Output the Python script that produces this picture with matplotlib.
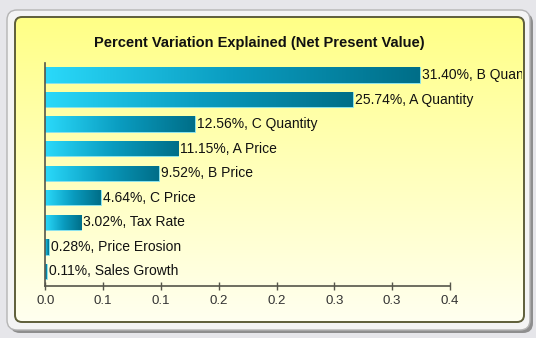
import numpy as np
import matplotlib.pyplot as plt
from matplotlib.patches import FancyBboxPatch
from matplotlib.colors import LinearSegmentedColormap
from matplotlib.transforms import Bbox, TransformedBbox

plt.rcParams['font.family'] = ['Liberation Sans', 'DejaVu Sans']

names = ["B Quantity", "A Quantity", "C Quantity", "A Price", "B Price",
         "C Price", "Tax Rate", "Price Erosion", "Sales Growth"]
pct = [31.40, 25.74, 12.56, 11.15, 9.52, 4.64, 3.02, 0.28, 0.11]
tick_labels = ["0.0", "0.1", "0.1", "0.2", "0.2", "0.3", "0.3", "0.4"]
title = "Percent Variation Explained (Net Present Value)"

W, H = 536, 338
fig = plt.figure(figsize=(W / 100, H / 100), dpi=100, facecolor="#E6E6EA")

# panel behind the chart, in pixel coords
bg = fig.add_axes([0, 0, 1, 1])
bg.set_xlim(0, W)
bg.set_ylim(H, 0)
bg.axis("off")
shadow = FancyBboxPatch((10, 13), 523, 320, boxstyle="round,pad=0,rounding_size=10",
                        fc="#8E8E8E", ec="none")
bg.add_patch(shadow)
outer = FancyBboxPatch((7, 10), 523, 320, boxstyle="round,pad=0,rounding_size=10",
                       fc="#F4F4F4", ec="#B4B4B4", lw=1.0)
bg.add_patch(outer)
inner = FancyBboxPatch((15, 17), 509, 305, boxstyle="round,pad=0,rounding_size=7",
                       fc="none", ec="#5E5E3A", lw=1.4, zorder=3)
bg.add_patch(inner)
yellow = LinearSegmentedColormap.from_list("yel", ["#FFFF86", "#FFFFF0"])
grad = np.linspace(0, 1, 256).reshape(-1, 1)
im = bg.imshow(grad, cmap=yellow, extent=(15, 524, 322, 17), aspect="auto", zorder=2)
im.set_clip_path(inner)

fig.text(259.5 / W, 1 - 43 / H, title, ha="center", va="center",
         fontsize=10.5, fontweight="bold", color="#111111")

# main chart
ax = fig.add_axes([45.3 / W, 1 - 285.7 / H, (450 - 45.3) / W, (285.7 - 62.7) / H])
ax.set_facecolor("none")
xmax = 0.339
y = np.arange(len(pct))
vals = np.array(pct) / 100
bars = ax.barh(y, vals, height=0.62, color="#18A8C8", edgecolor="#8AE4F4", lw=0.6)

cyan = LinearSegmentedColormap.from_list("cy", ["#2AD9FA", "#0A9CC0", "#006E88"])
hgrad = np.linspace(0, 1, 256).reshape(1, -1)
for b in bars:
    x0, y0 = b.get_x(), b.get_y()
    g = ax.imshow(hgrad, cmap=cyan, extent=(x0, x0 + b.get_width(), y0 + b.get_height(), y0),
                  aspect="auto", zorder=2)
    g.set_clip_path(b)

# labels are cut at the right edge of the panel, like the original
clip = TransformedBbox(Bbox.from_extents(0, 0, 522 / W, 1), fig.transFigure)
for i, (p, n) in enumerate(zip(pct, names)):
    t = ax.annotate(f"{p:.2f}%, {n}", (vals[i], i), xytext=(1.5, 0),
                    textcoords="offset points", ha="left", va="center",
                    fontsize=10, color="#111111", zorder=4)
    t.set_clip_on(True)
    t.set_clip_box(clip)

ax.set_xlim(0, xmax)
ax.set_ylim(8.58, -0.5)
ax.set_xticks(np.linspace(0, xmax, 8), tick_labels)
ax.set_yticks([])
for s in ["top", "right"]:
    ax.spines[s].set_visible(False)
for s in ["left", "bottom"]:
    ax.spines[s].set_color("#55554A")
    ax.spines[s].set_linewidth(1.2)
ax.tick_params(axis="x", direction="inout", length=6, width=1, color="#55554A",
               labelsize=9.5, labelcolor="#333333", pad=3.5)

fig.savefig("out.png", dpi=100, facecolor=fig.get_facecolor())
